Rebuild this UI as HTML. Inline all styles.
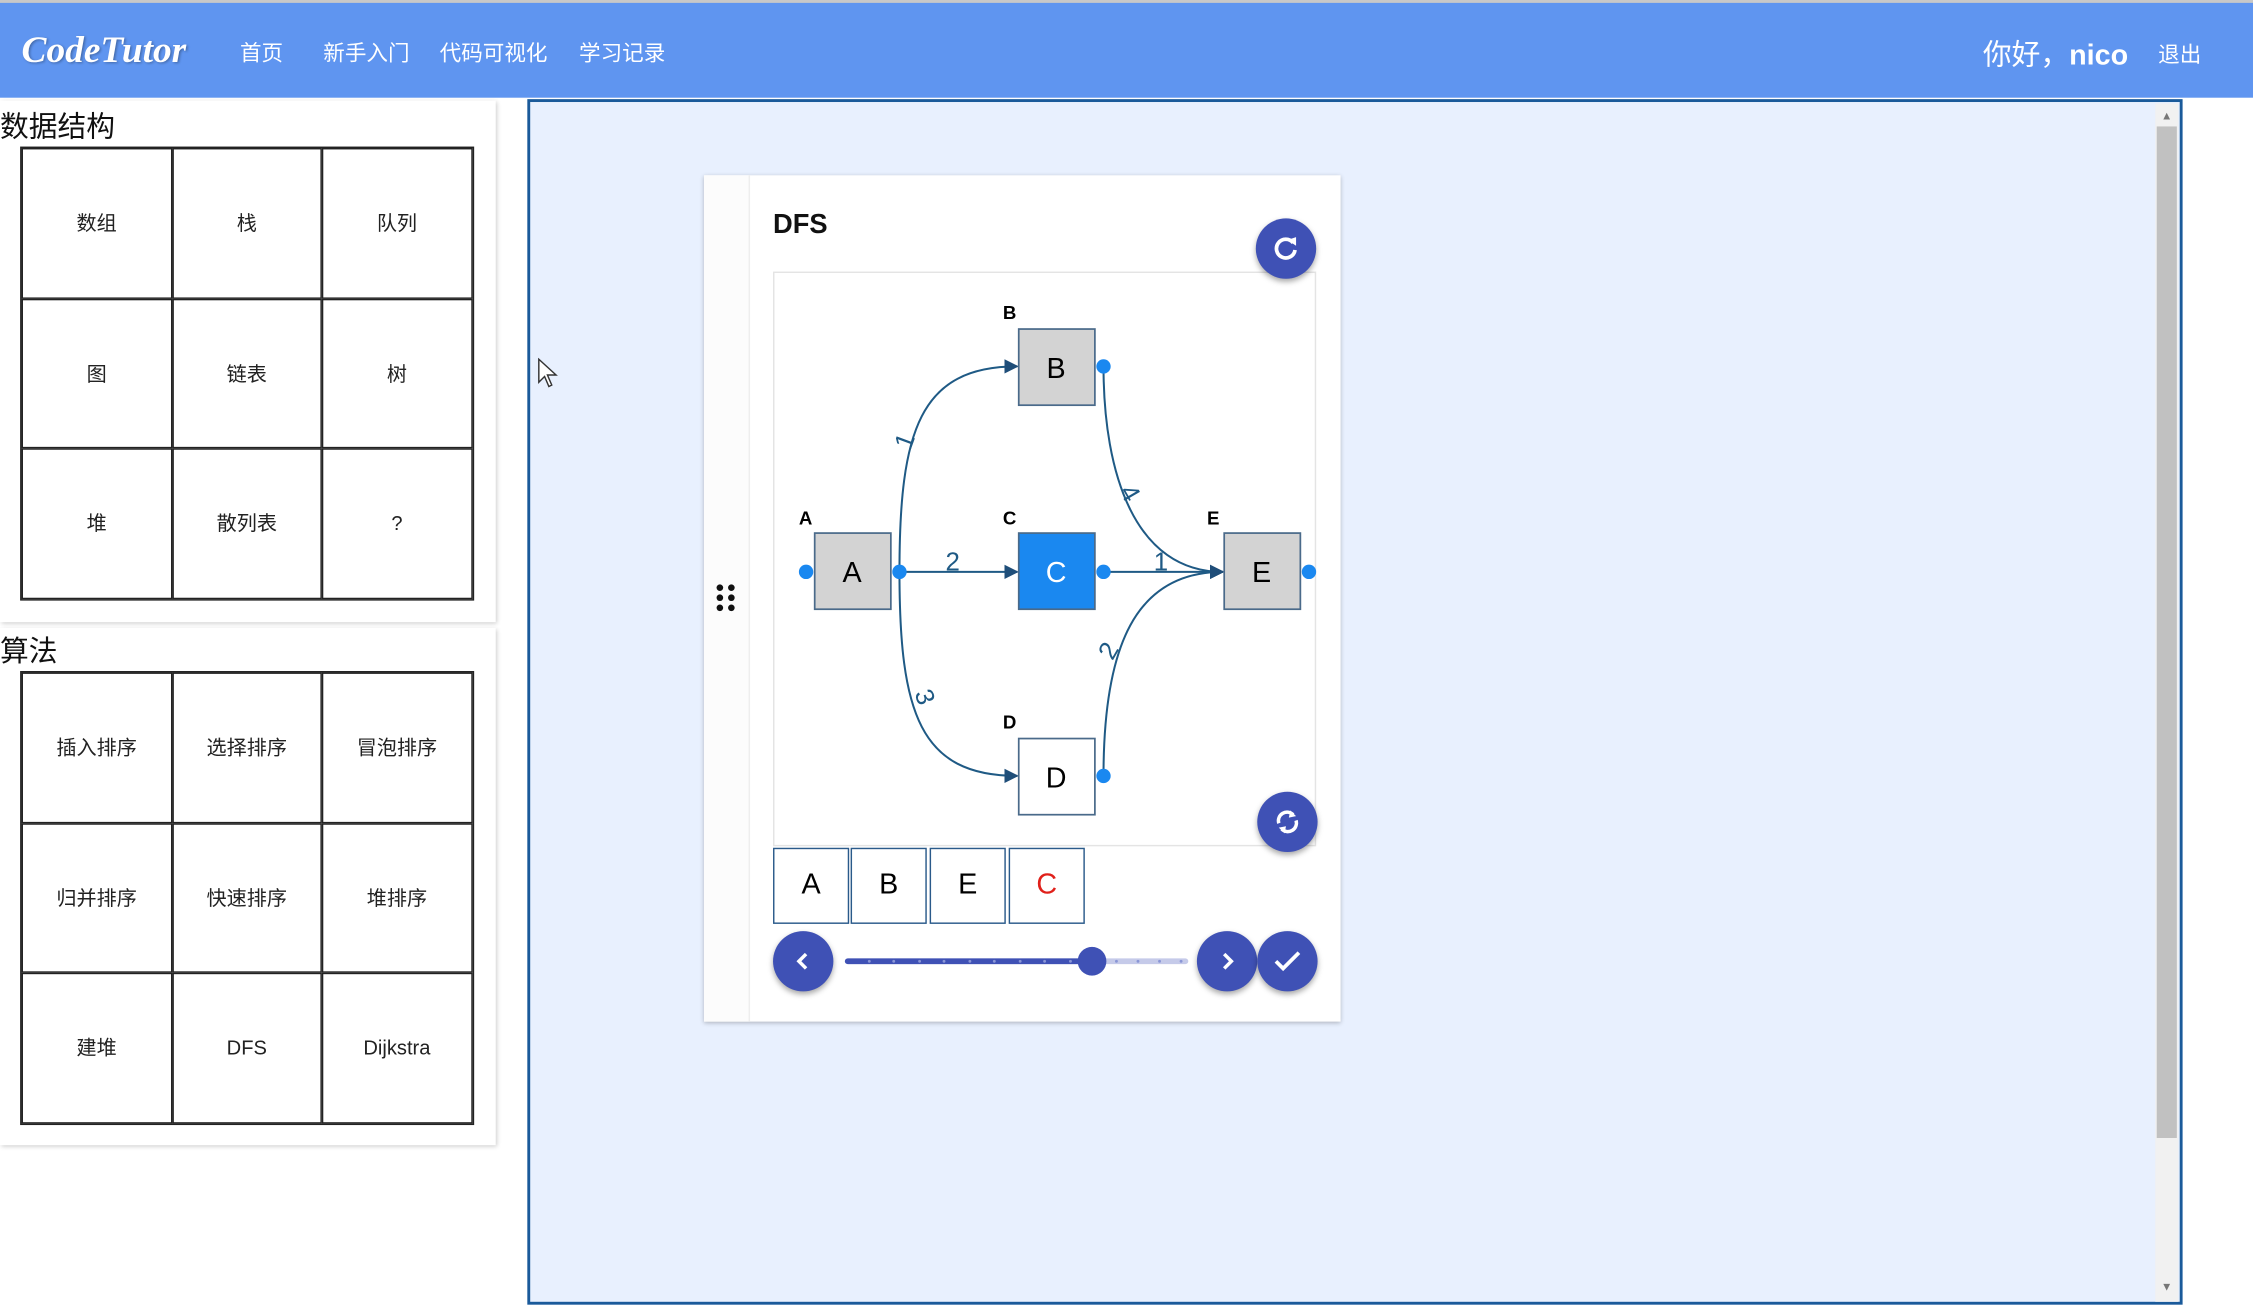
<!DOCTYPE html>
<html><head><meta charset="utf-8"><style>
html,body{margin:0;padding:0;width:2253px;height:1304px;overflow:hidden;background:#fff;font-family:"Liberation Sans","Noto Sans CJK SC",sans-serif}
#w{position:absolute;left:0;top:0;width:1568px;height:908px;transform:scale(1.43686);transform-origin:0 0}
.a{position:absolute}
.hdr{left:0;top:0;width:1568px;height:68px;background:#5f95f0;border-top:2px solid #c8c8c8;box-sizing:border-box}
.nav{color:#fff;font-size:15px;top:26px}
.grid{display:grid;grid-template-columns:repeat(3,104.5px);grid-auto-rows:104.5px;border:1px solid #222}
.grid div{border:1px solid #222;display:flex;align-items:center;justify-content:center;font-size:14px;color:#222}
.btn{position:absolute;width:42px;height:42px;border-radius:50%;background:#3f51b5;box-shadow:0 2px 4px rgba(0,0,0,.35);display:flex;align-items:center;justify-content:center}
.seq{position:absolute;top:590px;width:53px;height:53px;border:1px solid #2a5a8a;box-sizing:border-box;display:flex;align-items:center;justify-content:center;font-size:20px;background:#fff}
</style></head><body><div id="w">
<div class="a hdr"></div>
<div class="a" style="left:15px;top:20px;color:#fff;font:italic bold 26px 'Liberation Serif',serif;text-shadow:1px 1px 2px rgba(0,0,0,.3)">CodeTutor</div>
<div class="a nav" style="left:167px">首页</div>
<div class="a nav" style="left:225px">新手入门</div>
<div class="a nav" style="left:306px">代码可视化</div>
<div class="a nav" style="left:403px">学习记录</div>
<div class="a" style="left:1380px;top:22px;color:#fff;font-size:20px">你好，<b>nico</b></div>
<div class="a nav" style="left:1502px;top:27px">退出</div>

<div class="a" style="left:0;top:70px;width:345px;height:363px;background:#fff;box-shadow:1px 1px 3px rgba(0,0,0,.2)"></div>
<div class="a" style="left:0;top:72px;font-size:20px;color:#111">数据结构</div>
<div class="a grid" style="left:14px;top:102px"><div>数组</div><div>栈</div><div>队列</div><div>图</div><div>链表</div><div>树</div><div>堆</div><div>散列表</div><div>?</div></div>
<div class="a" style="left:0;top:437px;width:345px;height:360px;background:#fff;box-shadow:1px 1px 3px rgba(0,0,0,.2)"></div>
<div class="a" style="left:0;top:437px;font-size:20px;color:#111">算法</div>
<div class="a grid" style="left:14px;top:467px"><div>插入排序</div><div>选择排序</div><div>冒泡排序</div><div>归并排序</div><div>快速排序</div><div>堆排序</div><div>建堆</div><div>DFS</div><div>Dijkstra</div></div>

<div class="a" style="left:367px;top:69px;width:1152px;height:839px;background:#e8f0fe;border:2px solid #1a5a9a;box-sizing:border-box"></div>
<div class="a" style="left:1500px;top:72px;width:16px;height:834px;background:#f1f1f1"></div>
<div class="a" style="left:1501px;top:88px;width:14px;height:704px;background:#c1c1c1"></div>
<div class="a" style="left:1504px;top:76px;font-size:8px;color:#777">▲</div>
<div class="a" style="left:1504px;top:891px;font-size:8px;color:#777">▼</div>
<svg class="a" style="left:374px;top:249px" width="16" height="22"><path d="M1 1 L1 17 L5 13 L8 20 L10 19 L7 12 L13 12 Z" fill="#fff" stroke="#333"/></svg>

<div class="a" style="left:490px;top:122px;width:443px;height:589px;background:#fff;box-shadow:0 1px 3px rgba(0,0,0,.25)"></div>
<div class="a" style="left:490px;top:122px;width:31px;height:589px;background:#fcfcfc;border-right:1px solid #eee"></div>
<svg class="a" style="left:495px;top:405px" width="20" height="24"><g fill="#111"><circle cx="6" cy="4" r="2.3"/><circle cx="14" cy="4" r="2.3"/><circle cx="6" cy="11" r="2.3"/><circle cx="14" cy="11" r="2.3"/><circle cx="6" cy="18" r="2.3"/><circle cx="14" cy="18" r="2.3"/></g></svg>
<div class="a" style="left:538px;top:146px;font-size:19px;font-weight:bold;color:#111">DFS</div>
<div class="a" style="left:538px;top:189px;width:378px;height:400px;border:1px solid #e4e4e4;box-sizing:border-box"></div>

<svg class="a" style="left:0;top:0" width="1568" height="908" font-family="Liberation Sans, sans-serif">
<defs><marker id="ar" markerWidth="10" markerHeight="10" refX="9" refY="5" orient="auto" markerUnits="userSpaceOnUse"><path d="M0,0 L10,5 L0,10 Z" fill="#1f4e79"/></marker></defs>
<g fill="none" stroke="#1f5a85" stroke-width="1.4">
<path d="M626,398 C626,300 640,255 708,255" marker-end="url(#ar)"/>
<path d="M626,398 C626,496 640,540 708,540" marker-end="url(#ar)"/>
<path d="M626,398 L708,398" marker-end="url(#ar)"/>
<path d="M768,255 C768,330 790,398 851,398" marker-end="url(#ar)"/>
<path d="M768,398 L851,398" marker-end="url(#ar)"/>
<path d="M768,540 C768,450 790,398 851,398" marker-end="url(#ar)"/>
</g>
<g fill="#1f5a85" font-size="18">
<text x="624" y="312" transform="rotate(-70 630 306)">1</text>
<text x="658" y="397">2</text>
<text x="638" y="492" transform="rotate(70 644 486)">3</text>
<text x="781" y="350" transform="rotate(60 787 344)">4</text>
<text x="803" y="397">1</text>
<text x="766" y="458" transform="rotate(-60 772 452)">2</text>
</g>
<g stroke="#4a6a8a" stroke-width="1.2">
<rect x="567" y="371" width="53" height="53" fill="#d3d3d3"/>
<rect x="709" y="229" width="53" height="53" fill="#d3d3d3"/>
<rect x="709" y="371" width="53" height="53" fill="#1a88f0"/>
<rect x="852" y="371" width="53" height="53" fill="#d3d3d3"/>
<rect x="709" y="514" width="53" height="53" fill="#fff"/>
</g>
<g font-size="20" text-anchor="middle">
<text x="593" y="405">A</text><text x="735" y="263">B</text><text x="735" y="405" fill="#fff">C</text><text x="878" y="405">E</text><text x="735" y="548">D</text>
</g>
<g font-size="13" font-weight="bold">
<text x="556" y="365">A</text><text x="698" y="222">B</text><text x="698" y="365">C</text><text x="840" y="365">E</text><text x="698" y="507">D</text>
</g>
<g fill="#1a88f0">
<circle cx="561" cy="398" r="5"/><circle cx="626" cy="398" r="5"/><circle cx="768" cy="255" r="5"/><circle cx="768" cy="398" r="5"/><circle cx="911" cy="398" r="5"/><circle cx="768" cy="540" r="5"/>
</g>
<line x1="590" y1="669" x2="825" y2="669" stroke="#c5cae9" stroke-width="4" stroke-linecap="round"/>
<line x1="590" y1="669" x2="760" y2="669" stroke="#3f51b5" stroke-width="4" stroke-linecap="round"/>
<g fill="#8a96d6"><circle cx="605" cy="669" r="1"/><circle cx="622" cy="669" r="1"/><circle cx="640" cy="669" r="1"/><circle cx="657" cy="669" r="1"/><circle cx="675" cy="669" r="1"/><circle cx="692" cy="669" r="1"/><circle cx="710" cy="669" r="1"/><circle cx="727" cy="669" r="1"/><circle cx="745" cy="669" r="1"/><circle cx="777" cy="669" r="1"/><circle cx="792" cy="669" r="1"/><circle cx="807" cy="669" r="1"/><circle cx="822" cy="669" r="1"/></g>
<circle cx="760" cy="669" r="10" fill="#3f51b5"/>
</svg>

<div class="seq" style="left:538px">A</div>
<div class="seq" style="left:592px">B</div>
<div class="seq" style="left:647px">E</div>
<div class="seq" style="left:702px;color:#e0201a">C</div>

<div class="btn" style="left:874px;top:152px"><svg width="20" height="20" viewBox="0 0 20 20"><path d="M15 6 A6.5 6.5 0 1 0 16.3 11" fill="none" stroke="#fff" stroke-width="2.6"/><path d="M11 4 L17 2 L17 8 Z" fill="#fff"/></svg></div>
<div class="btn" style="left:875px;top:551px"><svg width="20" height="20" viewBox="0 0 20 20"><path d="M4 11 A6 6 0 0 1 14 5" fill="none" stroke="#fff" stroke-width="2.4"/><path d="M16 9 A6 6 0 0 1 6 15" fill="none" stroke="#fff" stroke-width="2.4"/><path d="M12 2 L16 6 L11 7 Z M8 18 L4 14 L9 13 Z" fill="#fff"/></svg></div>
<div class="btn" style="left:538px;top:648px"><svg width="14" height="14"><path d="M9 2 L4 7 L9 12" fill="none" stroke="#fff" stroke-width="2.4"/></svg></div>
<div class="btn" style="left:833px;top:648px"><svg width="14" height="14"><path d="M5 2 L10 7 L5 12" fill="none" stroke="#fff" stroke-width="2.4"/></svg></div>
<div class="btn" style="left:875px;top:648px"><svg width="20" height="16"><path d="M2 8 L7 13 L18 2" fill="none" stroke="#fff" stroke-width="2.6"/></svg></div>
</div></body></html>
